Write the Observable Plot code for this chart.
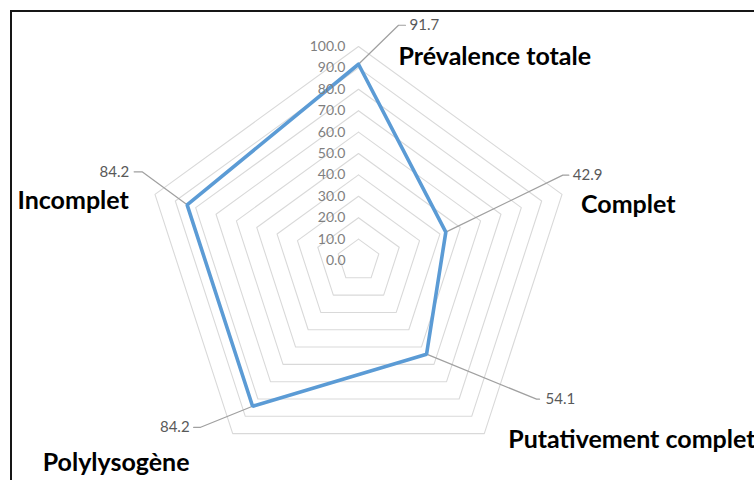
<!DOCTYPE html>
<html>
<head>
<meta charset="utf-8">
<script src="https://cdn.jsdelivr.net/npm/d3@7"></script>
<script src="https://cdn.jsdelivr.net/npm/@observablehq/plot@0.6"></script>
<style>
  html, body { margin: 0; padding: 0; background: #fff; }
  #wrap { position: relative; width: 754px; height: 480px; overflow: hidden; background: #fff; }
  #wrap svg { position: absolute; left: 0; top: 0; }
  #frame { position: absolute; left: 10px; top: 10px; width: 900px; height: 600px;
           border-left: 2px solid #161616; border-top: 2px solid #161616; pointer-events: none; }
</style>
</head>
<body>
<div id="wrap"><div id="frame"></div></div>
<script>
// ---- data ----
const categories = ["Prévalence totale", "Complet", "Putativement complet", "Polylysogène", "Incomplet"];
const values = [91.7, 42.9, 54.1, 84.2, 84.2];
const gridLevels = [10, 20, 30, 40, 50, 60, 70, 80, 90, 100];
const tickValues = [0, 10, 20, 30, 40, 50, 60, 70, 80, 90, 100];
const tickLabels = ["0.0", "10.0", "20.0", "30.0", "40.0", "50.0", "60.0", "70.0", "80.0", "90.0", "100.0"];

// ---- layout / style (pixels) ----
const W = 754, H = 480;
const cx = 358, cy = 260, R = 214;          // centre and radius of the 100 ring
const k = R / 100;                           // px per unit
// leader elbows relative to the data point, in px
const leaderOffsets = [[40, -39], [117, -57], [110, 45], [-52, 21], [-45, -33]];
const leaderTail = [7, 6, 3, -7, -8];
const valueTextGap = [4, 4, 6, -4, -5];
// category label offsets from the outer vertex, in px
const catOffsets = [[40, 10], [19, 11], [24, 6], [-190, 29], [-137.5, 7]];

const n = categories.length;
const ang = i => (2 * Math.PI * i) / n;
const px = (r, i) => r * Math.sin(ang(i));
const py = (r, i) => r * Math.cos(ang(i));

// grid rings
const gridPts = [];
for (const lv of gridLevels) {
  for (let i = 0; i <= n; i++) gridPts.push({level: lv, x: px(lv, i % n), y: py(lv, i % n)});
}
// series polygon
const seriesPts = [];
for (let i = 0; i <= n; i++) seriesPts.push({x: px(values[i % n], i % n), y: py(values[i % n], i % n)});

// leaders
const leaderPts = [];
const valueLabels = [];
values.forEach((v, i) => {
  const x0 = px(v, i), y0 = py(v, i);
  const [ox, oy] = leaderOffsets[i];
  const ex = x0 + ox / k, ey = y0 - oy / k;
  const tx = ex + leaderTail[i] / k;
  leaderPts.push({id: i, x: x0, y: y0}, {id: i, x: ex, y: ey}, {id: i, x: tx, y: ey});
  valueLabels.push({x: tx + valueTextGap[i] / k, y: ey, text: v.toFixed(1), anchor: leaderTail[i] >= 0 ? "start" : "end"});
});

const catLabels = categories.map((c, i) => ({
  x: px(100, i) + catOffsets[i][0] / k,
  y: py(100, i) - catOffsets[i][1] / k,
  text: c
}));

const ticks = tickValues.map((t, j) => ({x: 0, y: t, text: tickLabels[j]}));

const chart = Plot.plot({
  width: W,
  height: H,
  margin: 0,
  x: {domain: [-cx / k, (W - cx) / k], axis: null},
  y: {domain: [-(H - cy) / k, cy / k], axis: null},
  style: {fontFamily: "Lato, 'Open Sans', sans-serif", background: "transparent", overflow: "visible"},
  marks: [
    Plot.line(gridPts, {x: "x", y: "y", z: "level", stroke: "#d9d9d9", strokeWidth: 1.1}),
    Plot.line(leaderPts, {x: "x", y: "y", z: "id", stroke: "#a0a0a0", strokeWidth: 1.2}),
    Plot.line(seriesPts, {x: "x", y: "y", stroke: "#5b9bd5", strokeWidth: 3.6, strokeLinejoin: "miter"}),
    Plot.text(ticks, {x: "x", y: "y", text: "text", textAnchor: "end", dx: -13, fill: "#7f7f7f", fontSize: 14}),
    Plot.text(valueLabels.filter(d => d.anchor === "start"), {x: "x", y: "y", text: "text", textAnchor: "start", fill: "#595959", fontSize: 15}),
    Plot.text(valueLabels.filter(d => d.anchor === "end"), {x: "x", y: "y", text: "text", textAnchor: "end", fill: "#595959", fontSize: 15}),
    Plot.text(catLabels, {x: "x", y: "y", text: "text", textAnchor: "start", fill: "#000", fontSize: 25, fontWeight: "bold"})
  ]
});
document.getElementById("wrap").insertBefore(chart, document.getElementById("frame"));
</script>
</body>
</html>
